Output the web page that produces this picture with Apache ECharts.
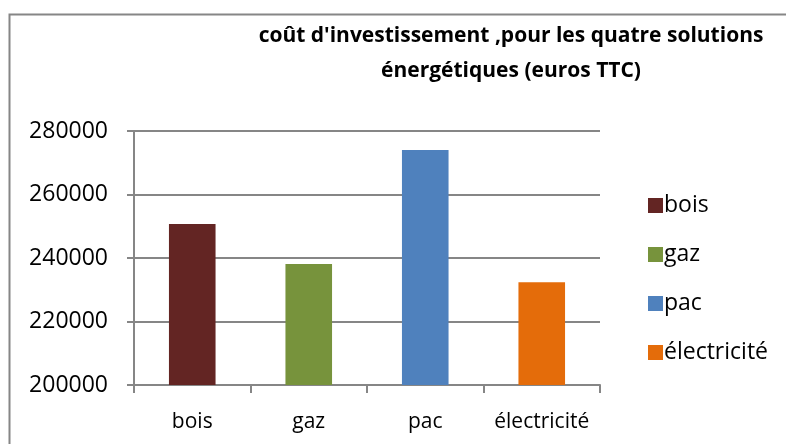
<!DOCTYPE html>
<html style="height: 100%;">
  <head>
    <meta charset="utf-8" />
  </head>
  <body style="height: 100%; margin: 0; background: #fff;">
    <div id="container" style="width: 786px; height: 444px;"></div>
    <script src="https://cdn.jsdelivr.net/npm/echarts@6/dist/echarts.min.js"></script>
    <script type="text/javascript">
      var categories = ["bois", "gaz", "pac", "électricité"];
      var values = [250700, 238100, 274000, 232400];
      var colors = ["#632523", "#77933C", "#4F81BD", "#E46C0A"];
      var yTicks = { min: 200000, max: 280000, interval: 20000 };

      var font = "'Open Sans', sans-serif";
      var myChart = echarts.init(document.getElementById("container"));

      // one series per category so the legend lists each one
      var series = categories.map(function (name, i) {
        return {
          name: name,
          type: "bar",
          barWidth: "40%",
          barGap: "-100%",
          itemStyle: { color: colors[i] },
          data: categories.map(function (c, j) {
            return j === i ? values[j] : "-";
          }),
        };
      });

      var option = {
        animation: false,
        backgroundColor: "#fff",
        graphic: [
          {
            type: "rect",
            left: 7,
            top: 12,
            shape: { width: 800, height: 450 },
            style: { fill: "none", stroke: "#868686", lineWidth: 2 },
          },
        ],
        title: {
          text: "coût d'investissement ,pour les quatre solutions\nénergétiques (euros TTC)",
          left: 506,
          top: 14,
          textAlign: "center",
          textStyle: {
            fontFamily: font,
            fontWeight: "bold",
            fontSize: 21,
            lineHeight: 35,
            color: "#000",
          },
        },
        legend: {
          orient: "vertical",
          left: 643,
          top: 189,
          itemWidth: 15,
          itemHeight: 15,
          itemGap: 26,
          icon: "rect",
          textStyle: { fontFamily: font, fontSize: 23, color: "#000", padding: [0, 0, 0, -4] },
          data: categories,
        },
        grid: { left: 134, right: 186, top: 131, bottom: 59 },
        xAxis: {
          type: "category",
          data: categories,
          axisLine: { lineStyle: { color: "#868686", width: 2 } },
          axisTick: { show: true, length: 8, lineStyle: { color: "#868686", width: 2 } },
          axisLabel: { fontFamily: font, fontSize: 21, color: "#000", margin: 27, interval: 0 },
        },
        yAxis: {
          type: "value",
          min: yTicks.min,
          max: yTicks.max,
          interval: yTicks.interval,
          axisLine: { show: true, lineStyle: { color: "#868686", width: 2 } },
          axisTick: { show: true, length: 7, lineStyle: { color: "#868686", width: 2 } },
          splitLine: { lineStyle: { color: "#868686", width: 2 } },
          axisLabel: {
            fontFamily: font,
            fontSize: 23,
            color: "#000",
            margin: 26,
            formatter: function (v) {
              return String(v);
            },
          },
        },
        series: series,
      };

      myChart.setOption(option);
    </script>
  </body>
</html>
